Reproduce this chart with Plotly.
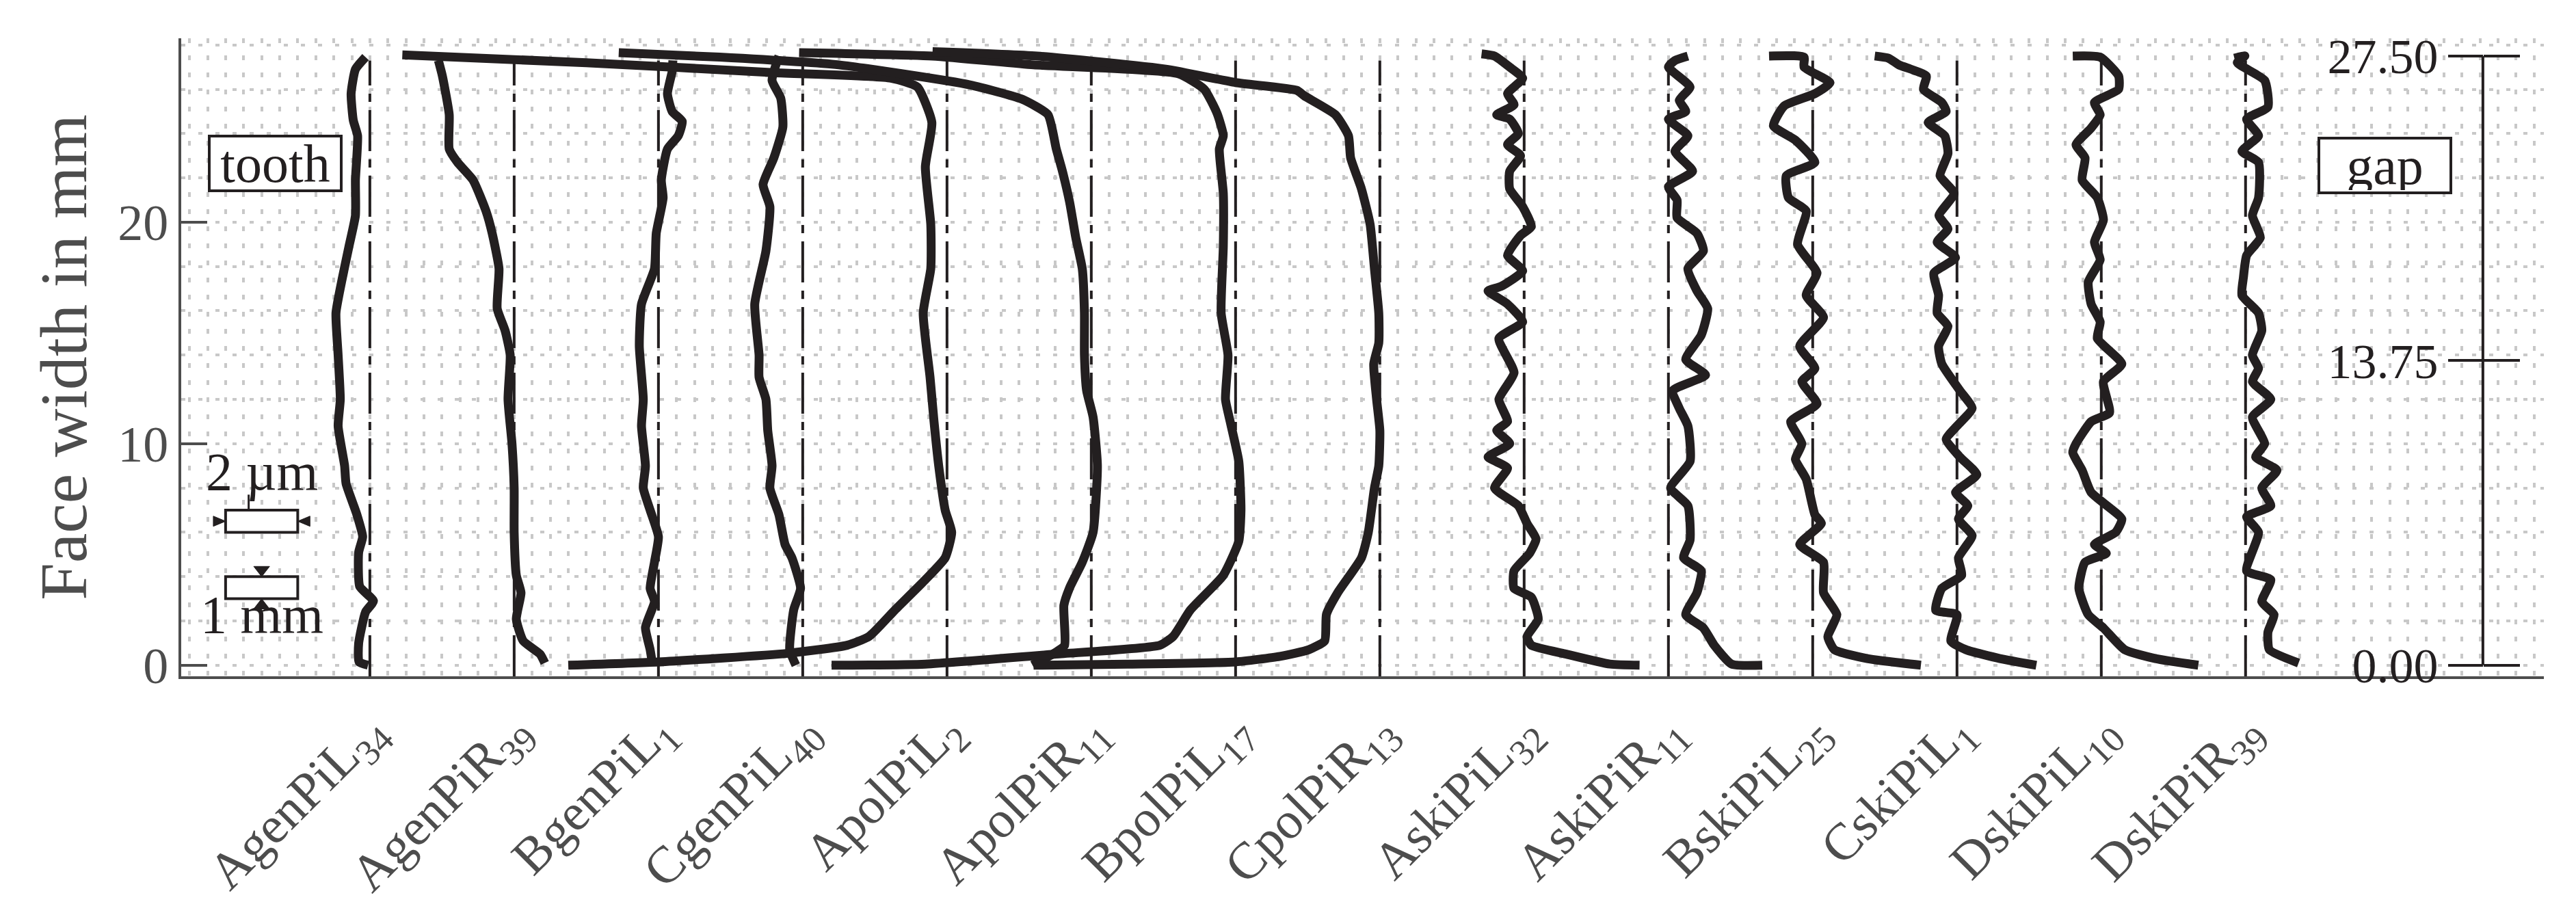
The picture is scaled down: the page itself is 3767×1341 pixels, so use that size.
import plotly.graph_objects as go

# flank line deviation profiles: face width position (mm) vs deviation (µm)
names = ["AgenPiL<sub>34</sub>", "AgenPiR<sub>39</sub>", "BgenPiL<sub>1</sub>", "CgenPiL<sub>40</sub>",
         "ApolPiL<sub>2</sub>", "ApolPiR<sub>11</sub>", "BpolPiL<sub>17</sub>", "CpolPiR<sub>13</sub>",
         "AskiPiL<sub>32</sub>", "AskiPiR<sub>11</sub>", "BskiPiL<sub>25</sub>", "CskiPiL<sub>1</sub>",
         "DskiPiL<sub>10</sub>", "DskiPiR<sub>39</sub>"]
spacing_um = 4.0  # offset between profiles, in µm

y_AgenPiL34 = [27.45, 26.9, 25.8, 24.6, 23.9, 21.9, 20.3, 18.9, 17.5, 15.9, 14.0, 12.0, 10.8, 9.0, 8.2, 6.85, 5.8, 5.1, 3.55, 2.9, 2.4, 1.0, 0.15, 0.0]
d_AgenPiL34 = [-0.12, -0.4, -0.52, -0.46, -0.34, -0.4, -0.4, -0.58, -0.76, -0.94, -0.88, -0.82, -0.88, -0.7, -0.66, -0.37, -0.2, -0.31, -0.28, 0.1, -0.12, -0.31, -0.3, -0.05]

y_AgenPiR39 = [27.3, 26.6, 24.85, 23.3, 22.7, 21.9, 20.5, 19.5, 17.9, 16.1, 15.1, 14.0, 12.0, 10.0, 8.0, 6.0, 4.06, 3.27, 2.08, 1.1, 0.5, 0.1]
d_AgenPiR39 = [-2.1, -1.99, -1.8, -1.8, -1.57, -1.14, -0.78, -0.61, -0.42, -0.47, -0.25, -0.11, -0.17, -0.06, 0.0, 0.0, 0.06, 0.19, 0.06, 0.25, 0.72, 0.85]

y_BgenPiL1 = [27.3, 26.8, 25.8, 25.0, 24.55, 23.9, 23.3, 21.9, 21.1, 19.5, 17.9, 16.3, 14.4, 12.0, 10.8, 9.0, 8.0, 7.0, 5.8, 4.65, 3.47, 2.87, 1.7, 0.7, 0.1]
d_BgenPiL1 = [0.4, 0.38, 0.25, 0.38, 0.66, 0.55, 0.25, 0.08, 0.13, -0.06, -0.11, -0.47, -0.53, -0.42, -0.47, -0.36, -0.42, -0.23, 0.0, -0.11, -0.23, -0.11, -0.36, -0.23, -0.17]

y_CgenPiL40 = [27.5, 26.4, 25.6, 24.3, 22.9, 21.7, 20.7, 18.7, 16.3, 14.0, 13.0, 12.0, 10.6, 9.0, 8.0, 6.8, 5.45, 4.85, 3.47, 2.5, 0.7, 0.0]
d_CgenPiL40 = [-0.66, -0.85, -0.61, -0.55, -0.8, -1.1, -0.91, -1.02, -1.33, -1.21, -1.21, -1.02, -0.97, -0.85, -0.91, -0.66, -0.49, -0.3, -0.06, -0.25, -0.36, -0.19]

y_ApolPiL2 = [27.55, 27.2, 26.75, 26.5, 26.1, 24.5, 22.5, 19.9, 17.9, 15.9, 13.0, 11.0, 9.0, 7.0, 6.0, 4.85, 3.86, 2.5, 1.3, 0.9, 0.53, 0.15, 0.0]
d_ApolPiL2 = [-15.1, -10.0, -4.8, -1.55, -0.82, -0.42, -0.6, -0.45, -0.45, -0.66, -0.47, -0.36, -0.23, -0.05, 0.13, -0.05, -0.6, -1.44, -2.16, -2.77, -4.45, -8.0, -10.5]

y_ApolPiR11 = [27.65, 27.45, 27.1, 26.2, 25.55, 24.85, 23.3, 22.3, 20.9, 19.3, 17.9, 15.9, 14.0, 12.4, 11.2, 9.0, 6.0, 4.65, 3.5, 2.7, 0.9, 0.6, 0.0]
d_ApolPiR11 = [-13.1, -10.3, -7.0, -3.37, -1.92, -1.2, -0.97, -0.8, -0.6, -0.43, -0.25, -0.19, -0.19, -0.13, 0.05, 0.17, 0.05, -0.25, -0.6, -0.76, -0.74, -0.97, -1.63]

y_BpolPiL17 = [27.65, 27.5, 27.1, 26.7, 26.0, 24.9, 23.9, 23.3, 21.3, 18.9, 15.9, 14.0, 12.0, 11.0, 9.2, 7.0, 5.6, 4.06, 2.5, 1.3, 0.9, 0.5, 0.05, 0.0]
d_BpolPiL17 = [-12.1, -8.4, -5.6, -1.59, -0.87, -0.51, -0.34, -0.45, -0.34, -0.34, -0.4, -0.21, -0.28, -0.15, 0.09, 0.15, 0.09, -0.34, -1.25, -1.73, -2.1, -4.98, -8.6, -11.2]

y_CpolPiR13 = [27.7, 27.5, 26.9, 26.3, 25.95, 25.7, 24.85, 23.9, 22.9, 21.5, 19.9, 17.9, 15.9, 14.55, 13.6, 12.0, 10.6, 9.0, 8.0, 6.0, 4.85, 3.27, 2.3, 1.1, 0.7, 0.4, 0.15, 0.05, 0.0]
d_CpolPiR13 = [-12.4, -9.5, -5.9, -4.0, -2.3, -2.09, -1.23, -0.87, -0.81, -0.51, -0.27, -0.15, -0.03, -0.03, -0.17, -0.09, 0.0, -0.03, -0.15, -0.32, -0.51, -1.17, -1.48, -1.53, -1.97, -2.77, -4.0, -7.0, -9.6]

y_AskiPiL32 = [27.6, 27.5, 27.0, 26.5, 25.8, 25.3, 24.85, 24.65, 24.0, 23.5, 23.0, 22.3, 21.5, 20.7, 19.8, 19.4, 18.5, 17.8, 17.1, 16.9, 16.3, 15.5, 14.75, 13.2, 12.0, 11.0, 10.6, 10.0, 9.4, 8.9, 8.0, 7.2, 6.4, 5.7, 5.05, 4.26, 3.47, 3.07, 2.08, 1.29, 0.9, 0.5, 0.05, 0.0]
d_AskiPiL32 = [-1.18, -0.82, -0.4, -0.04, -0.46, -0.28, -0.76, -0.4, -0.16, -0.46, -0.1, -0.4, -0.4, -0.04, 0.2, -0.1, -0.46, -0.04, -0.64, -1.0, -0.46, -0.04, -0.7, -0.28, -0.7, -0.46, -0.76, -0.4, -1.0, -0.46, -0.82, -0.16, 0.08, 0.33, 0.15, -0.28, -0.28, 0.2, 0.39, 0.08, 0.2, 1.17, 2.38, 3.2]

y_AskiPiR11 = [27.5, 27.3, 27.0, 26.1, 25.5, 25.0, 24.65, 23.9, 23.2, 22.3, 21.6, 21.0, 20.2, 19.5, 18.7, 17.9, 16.9, 16.1, 14.9, 13.8, 13.1, 12.4, 11.6, 10.8, 9.2, 8.0, 7.2, 5.65, 4.85, 4.26, 3.27, 2.28, 1.68, 0.9, 0.05, 0.0]
d_AskiPiR11 = [0.54, 0.18, 0.0, 0.6, 0.3, 0.48, 0.0, 0.54, 0.18, 0.67, 0.0, 0.24, 0.24, 0.79, 0.97, 0.54, 0.79, 1.09, 0.91, 0.48, 1.03, 0.12, 0.3, 0.54, 0.6, 0.06, 0.54, 0.6, 0.42, 0.91, 0.79, 0.48, 0.97, 1.27, 1.75, 2.6]

y_BskiPiL25 = [27.5, 27.45, 27.0, 26.3, 25.8, 25.25, 24.35, 23.7, 22.7, 22.1, 21.1, 20.5, 19.0, 17.7, 16.7, 15.7, 14.4, 13.4, 12.8, 11.8, 11.0, 10.0, 9.3, 8.4, 6.8, 6.4, 5.45, 4.65, 3.27, 2.28, 1.29, 0.7, 0.3, 0.0]
d_BskiPiL25 = [-1.21, -0.24, -0.24, 0.48, 0.06, -0.79, -1.09, -0.48, 0.06, -0.73, -0.67, -0.18, -0.42, 0.12, -0.18, 0.3, -0.36, 0.06, -0.3, 0.12, -0.61, -0.3, -0.48, -0.18, 0.06, 0.24, -0.36, 0.3, 0.3, 0.67, 0.42, 0.6, 1.51, 3.0]

y_CskiPiL1 = [27.5, 27.4, 27.1, 26.6, 26.0, 25.4, 25.0, 24.5, 23.9, 23.1, 22.1, 21.3, 20.3, 19.7, 19.1, 18.4, 17.7, 16.7, 15.9, 15.3, 14.4, 13.6, 12.4, 11.6, 10.8, 10.2, 9.4, 8.6, 7.8, 7.2, 6.6, 5.85, 4.85, 4.06, 3.47, 2.48, 2.28, 1.09, 0.7, 0.3, 0.0]
d_CskiPiL1 = [-2.28, -1.9, -1.61, -0.85, -0.93, -0.42, -0.3, -0.8, -0.34, -0.25, -0.47, -0.08, -0.5, -0.25, -0.55, -0.04, -0.64, -0.51, -0.55, -0.25, -0.51, -0.42, 0.08, 0.42, 0.0, -0.3, 0.08, 0.55, -0.04, 0.3, 0.04, 0.42, 0.04, 0.13, -0.42, -0.59, 0.0, -0.17, 0.25, 1.19, 2.2]

y_DskiPiL10 = [27.5, 27.45, 26.6, 26.0, 25.4, 24.85, 24.25, 23.5, 22.9, 21.9, 21.1, 20.1, 19.1, 18.3, 17.3, 16.3, 15.5, 14.75, 13.6, 12.8, 11.4, 11.0, 10.0, 9.6, 8.8, 7.8, 6.6, 6.0, 5.45, 5.05, 4.65, 3.47, 2.28, 1.68, 0.7, 0.3, 0.0]
d_DskiPiL10 = [-0.79, -0.03, 0.48, 0.48, -0.19, -0.03, -0.28, -0.7, -0.45, -0.53, -0.11, 0.06, -0.19, -0.03, -0.36, -0.28, -0.03, -0.11, 0.57, 0.06, 0.23, -0.28, -0.7, -0.79, -0.53, -0.28, 0.57, 0.4, -0.19, 0.14, -0.45, -0.62, -0.36, 0.06, 0.65, 1.5, 2.69]

y_DskiPiR39 = [27.4, 27.5, 27.2, 26.4, 25.2, 24.65, 23.9, 23.2, 22.7, 21.1, 20.3, 19.3, 18.5, 17.5, 16.7, 15.9, 15.1, 14.0, 13.4, 12.8, 12.0, 11.2, 10.0, 9.4, 8.8, 8.0, 7.2, 6.7, 6.0, 4.26, 3.86, 2.87, 2.28, 1.49, 0.7, 0.1]
d_DskiPiR39 = [-0.31, -0.02, -0.23, 0.53, 0.62, 0.03, 0.36, -0.1, 0.36, 0.36, 0.19, 0.41, 0.03, -0.06, -0.1, 0.36, 0.45, 0.19, 0.36, 0.19, 0.7, 0.19, 0.53, 0.28, 0.87, 0.45, 0.7, 0.03, 0.36, 0.03, 0.7, 0.45, 0.79, 0.62, 0.66, 1.47]

profiles = [
    (y_AgenPiL34, d_AgenPiL34), (y_AgenPiR39, d_AgenPiR39), (y_BgenPiL1, d_BgenPiL1),
    (y_CgenPiL40, d_CgenPiL40), (y_ApolPiL2, d_ApolPiL2), (y_ApolPiR11, d_ApolPiR11),
    (y_BpolPiL17, d_BpolPiL17), (y_CpolPiR13, d_CpolPiR13), (y_AskiPiL32, d_AskiPiL32),
    (y_AskiPiR11, d_AskiPiR11), (y_BskiPiL25, d_BskiPiL25), (y_CskiPiL1, d_CskiPiL1),
    (y_DskiPiL10, d_DskiPiL10), (y_DskiPiR39, d_DskiPiR39),
]

face_width = 27.5
scale_ticks = [0, 13.75, 27.5]
scale_text = ["0.00", "13.75", "27.50"]

INK = "#231f20"
GREY = "#4d4d4d"
GRID = "#c8c8c8"
FONT = "Liberation Serif"

x_min, x_max = -5.23, 60.27
y_min, y_max = -0.5, 28.3
scale_x = 58.58

fig = go.Figure()

# reference (zero) lines of each profile
for i in range(len(names)):
    fig.add_trace(go.Scatter(
        x=[i * spacing_um, i * spacing_um], y=[y_min, 27.3],
        mode="lines", line=dict(color=INK, width=4, dash="60px,12px,12px,12px"),
        showlegend=False, hoverinfo="skip",
    ))

for i, (yy, dd) in enumerate(profiles):
    fig.add_trace(go.Scatter(
        x=[i * spacing_um + d for d in dd], y=yy,
        mode="lines", line=dict(color=INK, width=13, shape="spline", smoothing=0.5),
        showlegend=False, name=names[i],
    ))

# dummy traces so the scale axes are drawn
for ax in ["y2", "y3"]:
    fig.add_trace(go.Scatter(x=[scale_x], y=[0], yaxis=ax, mode="markers",
                             marker=dict(opacity=0), showlegend=False, hoverinfo="skip"))

grid_style = dict(gridcolor=GRID, gridwidth=4)
fig.update_layout(
    width=3767, height=1341,
    margin=dict(l=257, r=55, t=48, b=360),
    plot_bgcolor="white", paper_bgcolor="white",
    font=dict(family=FONT, color=INK),
    xaxis=dict(
        range=[x_min, x_max],
        tickmode="array", tickvals=[i * spacing_um for i in range(len(names))], ticktext=names,
        tickangle=-45, tickfont=dict(size=76, color=GREY, family=FONT),
        ticks="", showline=True, linecolor=GREY, linewidth=4,
        showgrid=False, zeroline=False,
        minor=dict(dtick=0.5, tick0=0, showgrid=True, griddash="7px,18px", **grid_style),
    ),
    yaxis=dict(
        range=[y_min, y_max],
        tickvals=[0, 10, 20], ticks="inside", ticklen=38, tickwidth=4, tickcolor=GREY,
        tickfont=dict(size=74, color=GREY, family=FONT),
        showline=True, linecolor=GREY, linewidth=4, zeroline=False,
        showgrid=True, griddash="6px,19px", **grid_style,
        minor=dict(dtick=2, tick0=0, showgrid=True, griddash="6px,19px", **grid_style),
        title=dict(text="Face width in mm", font=dict(size=98, color=GREY, family=FONT), standoff=14),
    ),
    yaxis2=dict(
        overlaying="y", anchor="free", position=(scale_x - x_min) / (x_max - x_min), side="left",
        range=[y_min, y_max], tickmode="array", tickvals=scale_ticks, ticktext=scale_text,
        ticks="outside", ticklen=51, tickwidth=4, tickcolor=INK,
        tickfont=dict(size=72, color=INK, family=FONT),
        showline=False, showgrid=False, zeroline=False,
    ),
    yaxis3=dict(
        overlaying="y", anchor="free", position=(scale_x - x_min) / (x_max - x_min), side="right",
        range=[y_min, y_max], tickmode="array", tickvals=scale_ticks,
        ticks="outside", ticklen=53, tickwidth=4, tickcolor=INK, showticklabels=False,
        showline=False, showgrid=False, zeroline=False,
    ),
)

# face width scale line on the right
fig.add_shape(type="line", x0=scale_x, x1=scale_x, y0=0, y1=face_width,
              line=dict(color=INK, width=4))

# deviation / face width scale bars
bar = dict(color=INK, width=4)
fig.add_shape(type="rect", x0=-4, x1=-2, y0=6, y1=7, line=bar, fillcolor="white")
fig.add_shape(type="rect", x0=-4, x1=-2, y0=3, y1=4, line=bar, fillcolor="white")
fig.add_shape(type="line", x0=-3.36, x1=-3.36, y0=7, y1=7.7, line=dict(color=INK, width=3))
for p in ["M -4.34 6.27 L -4.34 6.73 L -4 6.5 Z", "M -1.66 6.27 L -1.66 6.73 L -2 6.5 Z",
          "M -3.22 4.46 L -2.78 4.46 L -3 4 Z", "M -3.22 2.54 L -2.78 2.54 L -3 3 Z"]:
    fig.add_shape(type="path", path=p, fillcolor=INK, line=dict(color=INK, width=1))

fig.add_annotation(x=-3.0, y=8.75, text="2 µm", showarrow=False, font=dict(size=78, color=INK))
fig.add_annotation(x=-3.0, y=2.3, text="1 mm", showarrow=False, font=dict(size=78, color=INK))

box = dict(showarrow=False, bgcolor="white", bordercolor=INK, borderwidth=4, borderpad=2,
           font=dict(size=78, color=INK), width=185, height=72)
fig.add_annotation(x=-2.63, y=22.65, text="tooth", **box)
fig.add_annotation(x=55.87, y=22.55, text="gap", **box)

fig.write_html("out.html")
